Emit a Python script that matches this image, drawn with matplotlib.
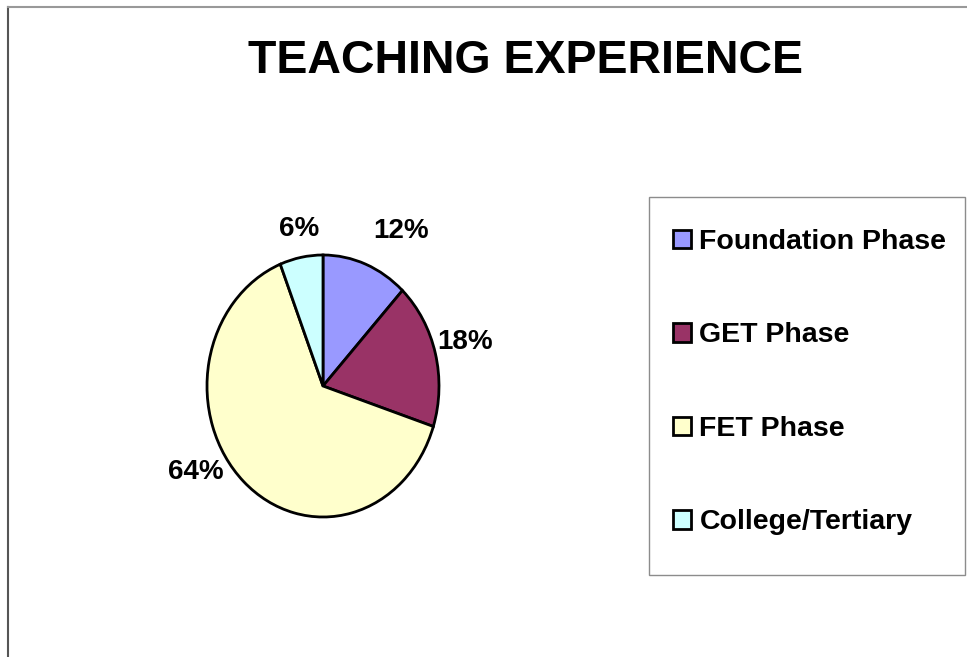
# Teaching experience pie chart

import numpy as np
from matplotlib import pyplot as plt
from matplotlib.patches import Patch, Rectangle

categories = ["Foundation Phase", "GET Phase", "FET Phase", "College/Tertiary"]
values = [12, 18, 64, 6]
colors = ["#9999FF", "#993366", "#FFFFCC", "#CCFFFF"]

# Label placement tweaks (angle shift in degrees, radius) to mimic Excel
label_shift = [-8, 1, -16, -1]
label_radius = [1.36, 1.27, 1.28, 1.22]

# Format plot
plt.rcParams["font.family"] = ["Liberation Sans", "DejaVu Sans"]
plt.rcParams["font.weight"] = "bold"

W, H = 967, 657
fig = plt.figure(figsize=(W / 100, H / 100), dpi=100)

# Outer chart border
fig.add_artist(plt.Line2D([8 / W, 8 / W], [0, 1 - 7 / H], color="#555555", linewidth=1.5))
fig.add_artist(plt.Line2D([8 / W, 1], [1 - 7 / H, 1 - 7 / H], color="#999999", linewidth=1.5))

# Pie axes (elliptical pie as in the source)
cx, cy, rx, ry = 323, H - 386, 116, 131
ax = fig.add_axes([(cx - rx) / W, (cy - ry) / H, 2 * rx / W, 2 * ry / H])
wedges, texts, autotexts = ax.pie(
    values,
    colors=colors,
    startangle=90,
    counterclock=False,
    autopct="%d%%",
    pctdistance=1.3,
    wedgeprops=dict(edgecolor="black", linewidth=2.0),
    textprops=dict(fontsize=20, fontweight="bold", color="black"),
)
ax.set_aspect("auto")
ax.set_xlim(-1, 1)
ax.set_ylim(-1, 1)

# Move percentage labels
for w, t, da, r in zip(wedges, autotexts, label_shift, label_radius):
    ang = np.deg2rad((w.theta1 + w.theta2) / 2 + da)
    t.set_position((r * np.cos(ang), r * np.sin(ang)))

# Title
fig.text(525 / W, 1 - 61 / H, "TEACHING EXPERIENCE", ha="center", va="center",
         fontsize=33.5, fontweight="bold")

# Legend box
fig.patches.append(Rectangle((649 / W, 1 - 575 / H), 316 / W, 378 / H,
                             transform=fig.transFigure, fill=False,
                             edgecolor="#8c8c8c", linewidth=1.0))

# Legend entries
handles = [Patch(facecolor=c, edgecolor="black", linewidth=2.0) for c in colors]
leg = fig.legend(
    handles, categories,
    loc="upper left",
    bbox_to_anchor=(673 / W, 1 - 229 / H),
    borderaxespad=0,
    borderpad=0,
    fontsize=20.5,
    frameon=False,
    handlelength=0.63,
    handleheight=0.63,
    handletextpad=0.3,
    labelspacing=2.37,
)

fig.savefig("out.png", dpi=100)
plt.close(fig)
